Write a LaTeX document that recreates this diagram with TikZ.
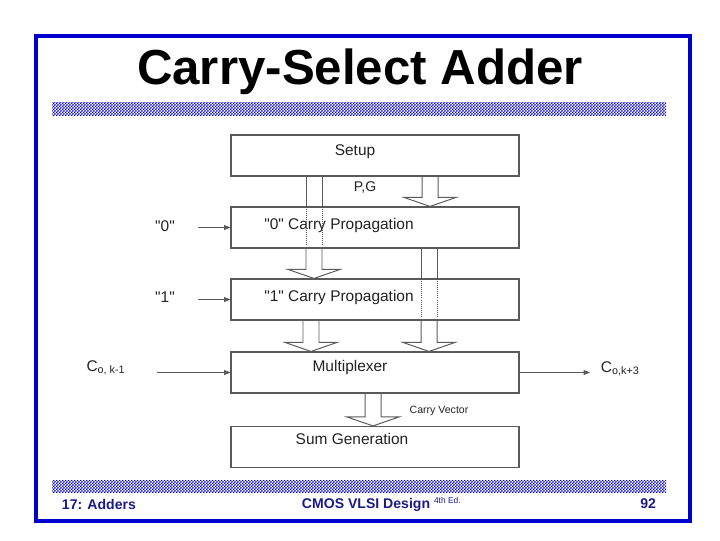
\documentclass[tikz,border=0pt]{standalone}
\usepackage{fontspec}
\setmainfont{Liberation Sans}
\usetikzlibrary{arrows.meta,calc,patterns}

% Fine checker for the bars
\pgfdeclarepatternformonly{finechecker}{\pgfpointorigin}{\pgfqpoint{2pt}{2pt}}{\pgfqpoint{2pt}{2pt}}{%
  \pgfpathrectangle{\pgfpointorigin}{\pgfqpoint{1pt}{1pt}}%
  \pgfpathrectangle{\pgfqpoint{1pt}{1pt}}{\pgfqpoint{1pt}{1pt}}%
  \pgfusepath{fill}}

\begin{document}
\begin{tikzpicture}[x=0.025cm,y=-0.025cm,
  blockbox/.style={draw=boxGray, line width=0.8pt, minimum width=7.2cm, minimum height=1.025cm},
  blocktext/.style={font=\fontsize{11}{13}\selectfont, text=txtGray},
  fatline/.style={draw=boxGray, line width=0.7pt, line join=miter},
  thinarrow/.style={draw=boxGray, line width=0.6pt, -{Triangle[length=4.5pt,width=3.5pt]}}]

% Colours
\definecolor{slideBlue}{HTML}{0000CC}
\definecolor{footBlue}{HTML}{1A1A8C}
\definecolor{boxGray}{HTML}{5A5A5A}
\definecolor{txtGray}{HTML}{222222}

% Fat arrow: x of centre, start, end
\def\fatarrow#1#2#3{%
  \draw[fatline] ($(#1,0 |- #2)+(-8,0)$) -- ($(#1,0 |- #3)+(-8,-9)$) -- ($(#1,0 |- #3)+(-26,-9)$)
    -- (#1,0 |- #3) -- ($(#1,0 |- #3)+(26,-9)$) -- ($(#1,0 |- #3)+(8,-9)$) -- ($(#1,0 |- #2)+(8,0)$);}

\useasboundingbox (0,0) rectangle (720,540);

% Frame and bars
\draw[slideBlue, line width=2.2pt] (36,36) rectangle (690,521);
\fill[pattern=finechecker, pattern color=slideBlue] (52,102) rectangle (666,115);
\fill[pattern=finechecker, pattern color=slideBlue] (52,480) rectangle (666,492);

% Title
\node[font=\fontsize{35}{40}\selectfont\bfseries] (title) at (360,72) {Carry-Select Adder};

% Blocks
\node[blockbox] (setup) at (375,155.5) {};
\node[blockbox] (prop0) at (375,227.5) {};
\node[blockbox] (prop1) at (375,299.5) {};
\node[blockbox] (mux) at (375,372.5) {};
\node[blockbox] (sumgen) at (375,447) {};

\node[blocktext] (setuptxt) at (355,152) {Setup};
\node[blocktext] (prop0txt) at (339,225) {\textquotedbl 0\textquotedbl\ Carry Propagation};
\node[blocktext] (prop1txt) at (339,297) {\textquotedbl 1\textquotedbl\ Carry Propagation};
\node[blocktext] (muxtxt) at (350,367) {Multiplexer};
\node[blocktext] (sumtxt) at (352,439) {Sum Generation};

% Fat arrows
\fatarrow{430}{setup.south}{prop0.north}
\fatarrow{314}{prop0.south}{prop1.north}
\draw[fatline] (306,0 |- setup.south) -- (306,0 |- prop0.north);
\draw[fatline] (322,0 |- setup.south) -- (322,0 |- prop0.north);
\draw[boxGray, densely dotted, line width=0.5pt] (306,0 |- prop0.north) -- (306,0 |- prop0.south);
\draw[boxGray, densely dotted, line width=0.5pt] (322,0 |- prop0.north) -- (322,0 |- prop0.south);
\fatarrow{429}{prop1.south}{mux.north}
\draw[fatline] (421,0 |- prop0.south) -- (421,0 |- prop1.north);
\draw[fatline] (437,0 |- prop0.south) -- (437,0 |- prop1.north);
\draw[boxGray, densely dotted, line width=0.5pt] (421,0 |- prop1.north) -- (421,0 |- prop1.south);
\draw[boxGray, densely dotted, line width=0.5pt] (437,0 |- prop1.north) -- (437,0 |- prop1.south);
\fatarrow{311}{prop1.south}{mux.north}
\fatarrow{373}{mux.south}{sumgen.north}

\node[blocktext, font=\fontsize{10}{12}\selectfont] (pg) at (365,187) {P,G};
\node[blocktext, font=\fontsize{7.5}{9}\selectfont] (cvec) at (439,411) {Carry Vector};

% Inputs and output
\node[blocktext] (in0) at (165,226) {\textquotedbl 0\textquotedbl};
\node[blocktext] (in1) at (165,297) {\textquotedbl 1\textquotedbl};
\node[blocktext] (cin) at (106,368) {C\textsubscript{o, k-1}};
\node[blocktext, anchor=west] (cout) at (596,369) {C\textsubscript{o,k+3}};
\draw[thinarrow] (198,0 |- prop0.west) -- (prop0.west);
\draw[thinarrow] (198,0 |- prop1.west) -- (prop1.west);
\draw[thinarrow] (157,0 |- mux.west) -- (mux.west);
\draw[thinarrow] (mux.east) -- (590,0 |- mux.east);

% Footer
\node[anchor=west, font=\fontsize{10}{12}\selectfont\bfseries, text=footBlue] (chap) at (57,504) {17: Adders};
\node[anchor=west, font=\fontsize{10}{12}\selectfont\bfseries, text=footBlue] (book) at (297,504) {CMOS VLSI Design \textsuperscript{\mdseries\fontsize{6}{7}\selectfont 4th Ed.}};
\node[anchor=east, font=\fontsize{10}{12}\selectfont\bfseries, text=footBlue] (page) at (661,504) {92};

\end{tikzpicture}
\end{document}
